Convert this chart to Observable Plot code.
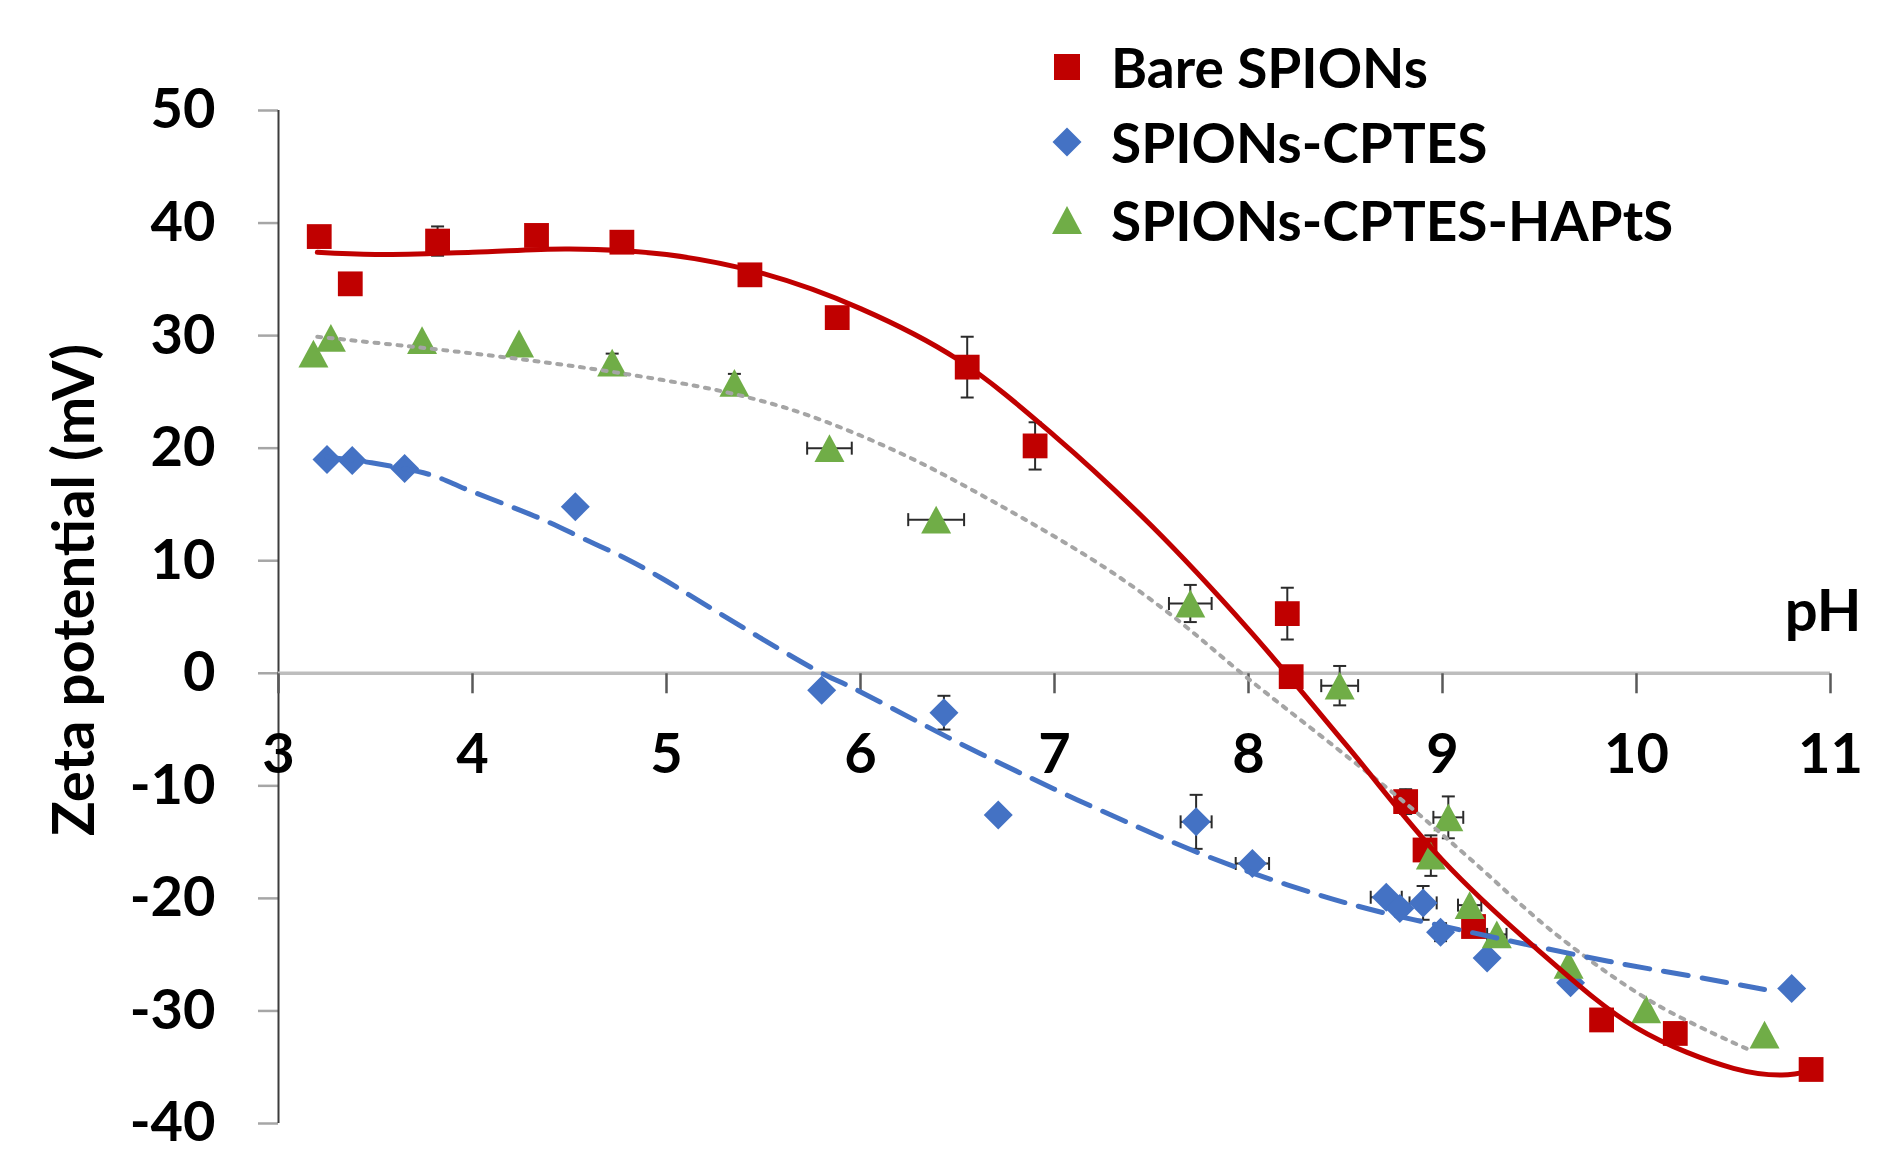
<!DOCTYPE html>
<html><head><meta charset="utf-8">
<script src="https://cdn.jsdelivr.net/npm/d3@7"></script>
<script src="https://cdn.jsdelivr.net/npm/@observablehq/plot@0.6"></script>
<style>
html,body{margin:0;padding:0;background:#fff;}
#wrap{position:relative;width:1896px;height:1174px;overflow:hidden;font-family:Lato,sans-serif;}
#legend{position:absolute;left:1030px;top:0;}
</style></head><body><div id="wrap"></div>
<script>
// ---------- data ----------
const seriesNames = ["Bare SPIONs", "SPIONs-CPTES", "SPIONs-CPTES-HAPtS"];
const seriesColors = ["#C00000", "#4472C4", "#70AD47"];

// Bare SPIONs (red squares)
const barePH   = [3.21, 3.37, 3.82, 4.33, 4.77, 5.43, 5.88, 6.55, 6.90, 8.20, 8.22, 8.81, 8.91, 9.16, 9.82, 10.20, 10.90];
const bareZeta = [38.8, 34.6, 38.4, 38.9, 38.3, 35.4, 31.6, 27.2, 20.2, 5.3, -0.3, -11.4, -15.7, -22.5, -30.8, -32.0, -35.2];
const bareErrY = [0, 0, 1.3, 0, 0, 0, 0, 2.7, 2.1, 2.3, 0, 1.1, 0, 0, 0, 0, 0];
const bareErrX = [0, 0, 0, 0, 0, 0, 0, 0, 0, 0, 0, 0, 0, 0, 0, 0, 0];

// SPIONs-CPTES (blue diamonds)
const cptesPH   = [3.25, 3.38, 3.65, 4.53, 5.80, 6.43, 6.71, 7.73, 8.02, 8.71, 8.78, 8.90, 8.99, 9.23, 9.66, 10.80];
const cptesZeta = [19.0, 18.9, 18.2, 14.8, -1.5, -3.5, -12.6, -13.2, -16.9, -19.9, -20.9, -20.4, -23.0, -25.3, -27.5, -28.0];
const cptesErrY = [0, 0, 0, 0, 0, 1.5, 0, 2.4, 0, 0, 0, 1.5, 0.8, 0, 0, 0];
const cptesErrX = [0, 0, 0, 0, 0, 0, 0, 0.08, 0.086, 0.08, 0, 0.07, 0, 0, 0, 0];

// SPIONs-CPTES-HAPtS (green triangles)
const haptsPH   = [3.18, 3.27, 3.74, 4.24, 4.72, 5.35, 5.84, 6.39, 7.70, 8.47, 8.94, 9.03, 9.14, 9.28, 9.65, 10.05, 10.66];
const haptsZeta = [28.4, 29.8, 29.6, 29.3, 27.6, 25.8, 20.0, 13.65, 6.2, -1.1, -16.2, -12.8, -20.6, -23.2, -25.9, -29.85, -32.1];
const haptsErrY = [0, 0, 0, 0, 0.8, 0.8, 0, 0, 1.65, 1.75, 1.8, 1.86, 0, 0, 0, 0, 0];
const haptsErrX = [0, 0, 0, 0, 0, 0, 0.115, 0.144, 0.11, 0.095, 0, 0.077, 0.06, 0.05, 0, 0, 0];

// trendlines
const bareFitPH = [3.2, 3.5, 4.0, 4.5, 5.0, 5.5, 6.0, 6.5, 7.0, 7.5, 8.0, 8.5, 9.0, 9.5, 10.0, 10.5, 10.75, 10.9];
const bareFit   = [37.4, 37.2, 37.4, 37.7, 37.2, 35.5, 32.4, 27.9, 21.1, 13.1, 3.9, -6.3, -16.6, -24.7, -31.5, -35.1, -35.7, -35.3];
const cptesFitPH = [3.25, 3.48, 3.79, 3.96, 4.17, 4.37, 4.58, 4.79, 4.98, 5.18, 5.79, 5.96, 6.52, 7.0, 7.24, 7.75, 8.2, 8.61, 9.13, 9.49, 9.92, 10.38, 10.66];
const cptesFit   = [19.2, 18.7, 17.6, 16.4, 15.0, 13.6, 11.9, 10.2, 8.4, 6.3, 0.1, -1.3, -6.3, -10.3, -12.2, -16.0, -18.8, -20.9, -22.95, -24.3, -25.8, -27.2, -28.1];
const haptsFitPH = [3.2, 3.75, 4.25, 4.75, 5.3, 5.7, 6.2, 6.7, 7.25, 7.6, 8.0, 8.45, 8.8, 9.13, 9.6, 10.1, 10.6];
const haptsFit   = [29.9, 28.9, 27.9, 26.7, 25.0, 23.1, 19.6, 15.1, 9.5, 5.2, -0.5, -6.6, -11.4, -16.3, -23.4, -29.4, -33.6];

// axis ticks
const xTicks = [3, 4, 5, 6, 7, 8, 9, 10, 11];
const yTicks = [-40, -30, -20, -10, 0, 10, 20, 30, 40, 50];

// ---------- helpers ----------
const rows = (ph, z, ey, ex) => ph.map((p, i) => ({pH: p, z: z[i], ey: ey[i], ex: ex[i]}));
const line = (ph, z) => ph.map((p, i) => ({pH: p, z: z[i]}));
const bare = rows(barePH, bareZeta, bareErrY, bareErrX);
const cptes = rows(cptesPH, cptesZeta, cptesErrY, cptesErrX);
const hapts = rows(haptsPH, haptsZeta, haptsErrY, haptsErrX);
const allPts = [...bare, ...cptes, ...hapts];

const rad = (size) => Math.sqrt(size / Math.PI);
const squareSym = {draw(c, s) { const r = rad(s); c.rect(-r, -r, 2 * r, 2 * r); }};
const diamondSym = {draw(c, s) { const r = rad(s); c.moveTo(0, -r); c.lineTo(r, 0); c.lineTo(0, r); c.lineTo(-r, 0); c.closePath(); }};
const triangleSym = {draw(c, s) { const r = rad(s); const h = r * 0.93; c.moveTo(0, -h); c.lineTo(r, h); c.lineTo(-r, h); c.closePath(); }};
const hCap = {draw(c, s) { const r = rad(s); c.moveTo(-r, 0); c.lineTo(r, 0); }};
const vCap = {draw(c, s) { const r = rad(s); c.moveTo(0, -r); c.lineTo(0, r); }};
const tickDown = {draw(c, s) { const r = rad(s); c.moveTo(0, 0); c.lineTo(0, r); }};

const F = 56;
const errColor = "#2b2b2b";
const withY = allPts.filter(d => d.ey > 0);
const withX = allPts.filter(d => d.ex > 0);

const chart = Plot.plot({
  width: 1896,
  height: 1174,
  marginLeft: 278,
  marginRight: 66,
  marginTop: 110,
  marginBottom: 51,
  style: {fontFamily: "Lato, sans-serif", fontWeight: 700, background: "#fff"},
  x: {domain: [3, 11], axis: null},
  y: {domain: [-40, 50], axis: null},
  marks: [
    // y axis ticks + labels
    Plot.axisY(yTicks, {tickSize: 20, tickPadding: 43, tickFormat: d => String(d), fontSize: F, fontWeight: 700,
      stroke: "#A6A6A6", strokeWidth: 2.5, fill: "#000", label: null}),
    Plot.ruleX([3], {stroke: "#3c3c3c", strokeWidth: 2}),
    Plot.ruleY([0], {stroke: "#BDBDBD", strokeWidth: 3.5}),
    Plot.dot(xTicks, {x: d => d, y: () => 0, symbol: tickDown, r: 20, stroke: "#595959", strokeWidth: 2.5, fill: "none"}),
    Plot.text(xTicks, {x: d => d, y: () => 0, text: d => String(d), dy: 82, fontSize: F, fontWeight: 700, fill: "#000"}),
    Plot.text(["pH"], {frameAnchor: "right", dx: 31, dy: 14, textAnchor: "end", lineAnchor: "bottom", fontSize: 58, fontWeight: 700, fill: "#000"}),
    Plot.text(["Zeta potential (mV)"], {frameAnchor: "left", textAnchor: "middle", rotate: -90, dx: -203, dy: -27, fontSize: 58, fontWeight: 700, fill: "#000"}),

    // error bars
    Plot.ruleX(withY, {x: "pH", y1: d => d.z - d.ey, y2: d => d.z + d.ey, stroke: errColor, strokeWidth: 2}),
    Plot.ruleY(withX, {y: "z", x1: d => d.pH - d.ex, x2: d => d.pH + d.ex, stroke: errColor, strokeWidth: 2}),
    Plot.dot(withY, {x: "pH", y: d => d.z + d.ey, symbol: hCap, r: 6.5, stroke: errColor, strokeWidth: 2, fill: "none"}),
    Plot.dot(withY, {x: "pH", y: d => d.z - d.ey, symbol: hCap, r: 6.5, stroke: errColor, strokeWidth: 2, fill: "none"}),
    Plot.dot(withX, {x: d => d.pH + d.ex, y: "z", symbol: vCap, r: 6.5, stroke: errColor, strokeWidth: 2, fill: "none"}),
    Plot.dot(withX, {x: d => d.pH - d.ex, y: "z", symbol: vCap, r: 6.5, stroke: errColor, strokeWidth: 2, fill: "none"}),

    // markers
    Plot.dot(bare, {x: "pH", y: "z", symbol: squareSym, r: 12.4, fill: seriesColors[0], stroke: "none"}),
    Plot.dot(cptes, {x: "pH", y: "z", symbol: diamondSym, r: 14.5, fill: seriesColors[1], stroke: "none"}),
    Plot.dot(hapts, {x: "pH", y: "z", symbol: triangleSym, r: 15, fill: seriesColors[2], stroke: "none"}),

    // trendlines
    Plot.line(line(haptsFitPH, haptsFit), {x: "pH", y: "z", curve: "catmull-rom", stroke: "#A5A5A5", strokeWidth: 4, strokeDasharray: "4 7.5"}),
    Plot.line(line(cptesFitPH, cptesFit), {x: "pH", y: "z", curve: "catmull-rom", stroke: seriesColors[1], strokeWidth: 5, strokeDasharray: "25 14"}),
    Plot.line(line(bareFitPH, bareFit), {x: "pH", y: "z", curve: "catmull-rom", stroke: seriesColors[0], strokeWidth: 5})
  ]
});
document.getElementById("wrap").appendChild(chart);

// ---------- legend ----------
const symbols = [squareSym, diamondSym, triangleSym];
const symR = [13, 14.5, 15];
const rowCenters = [67, 142, 220];
const leg = d3.select("#wrap").append("svg").attr("id", "legend").attr("width", 760).attr("height", 270);
seriesNames.forEach((name, i) => {
  const g = leg.append("g").attr("transform", `translate(37,${rowCenters[i]})`);
  g.append("path").attr("d", d3.symbol().type(symbols[i]).size(Math.PI * symR[i] * symR[i])()).attr("fill", seriesColors[i]);
  leg.append("text").attr("x", 81).attr("y", rowCenters[i] + 21)
    .attr("font-family", "Lato, sans-serif").attr("font-weight", 700).attr("font-size", 55).attr("fill", "#000")
    .text(name);
});
</script>
</body></html>
